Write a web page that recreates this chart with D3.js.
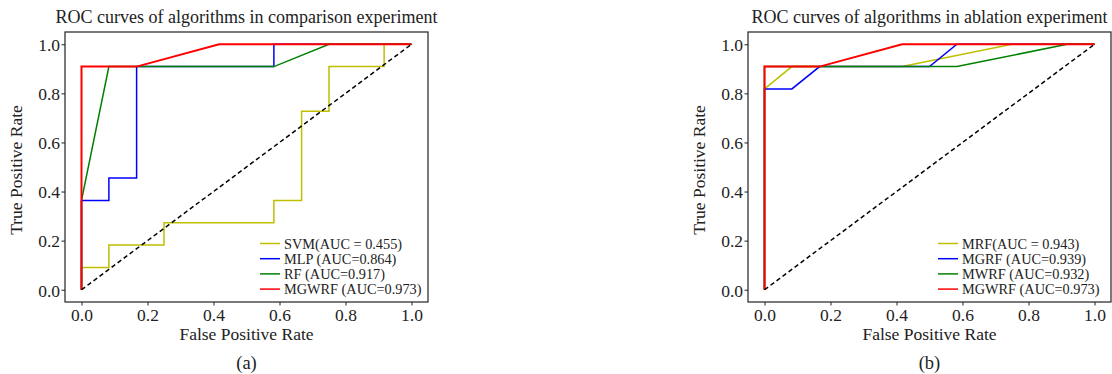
<!DOCTYPE html>
<html>
<head>
<meta charset="utf-8">
<script src="https://d3js.org/d3.v7.min.js"></script>
<style>
  body { margin: 0; background: #fff; }
</style>
</head>
<body>
<div id="chart"></div>
<script>
var ticks = [0, 0.2, 0.4, 0.6, 0.8, 1.0];

// panel (a): comparison experiment
var svmFpr = [0, 0, 0.083, 0.083, 0.25, 0.25, 0.583, 0.583, 0.667, 0.667, 0.75, 0.75, 0.917, 0.917, 1];
var svmTpr = [0, 0.091, 0.091, 0.182, 0.182, 0.273, 0.273, 0.364, 0.364, 0.727, 0.727, 0.909, 0.909, 1, 1];
var mlpFpr = [0, 0, 0.083, 0.083, 0.167, 0.167, 0.583, 0.583, 1];
var mlpTpr = [0, 0.364, 0.364, 0.455, 0.455, 0.909, 0.909, 1, 1];
var rfFpr = [0, 0, 0.083, 0.583, 0.75, 1];
var rfTpr = [0, 0.364, 0.909, 0.909, 1, 1];
var mgwrfFpr = [0, 0, 0.167, 0.417, 1];
var mgwrfTpr = [0, 0.909, 0.909, 1, 1];

// panel (b): ablation experiment
var mrfFpr = [0, 0, 0.083, 0.417, 0.75, 1];
var mrfTpr = [0, 0.818, 0.909, 0.909, 1, 1];
var mgrfFpr = [0, 0, 0.083, 0.167, 0.5, 0.583, 1];
var mgrfTpr = [0, 0.818, 0.818, 0.909, 0.909, 1, 1];
var mwrfFpr = [0, 0, 0.583, 0.917, 1];
var mwrfTpr = [0, 0.909, 0.909, 1, 1];

var labelsA = ["SVM(AUC = 0.455)", "MLP (AUC=0.864)", "RF (AUC=0.917)", "MGWRF (AUC=0.973)"];
var labelsB = ["MRF(AUC = 0.943)", "MGRF (AUC=0.939)", "MWRF (AUC=0.932)", "MGWRF (AUC=0.973)"];
var colors = ["#bfbf00", "#0000ff", "#008000", "#ff0000"];

var width = 1112, height = 374;
var serif = "'Liberation Serif', 'Times New Roman', Times, serif";

var svg = d3.select("#chart").append("svg")
    .attr("width", width)
    .attr("height", height);

function zip(xs, ys) {
    return xs.map(function(x, i) { return [x, ys[i]]; });
}

function drawPanel(opt) {
    var x = d3.scaleLinear().domain([-0.05, 1.05]).range([opt.left, opt.right]);
    var y = d3.scaleLinear().domain([-0.05, 1.05]).range([302, 32]);
    var g = svg.append("g");

    var line = d3.line()
        .x(function(d) { return x(d[0]); })
        .y(function(d) { return y(d[1]); });

    g.selectAll("path.curve")
        .data(opt.curves)
        .enter().append("path")
        .attr("class", "curve")
        .attr("d", function(d) { return line(d); })
        .attr("fill", "none")
        .attr("stroke", function(d, i) { return colors[i]; })
        .attr("stroke-width", function(d, i) { return i === 3 ? 2 : 1.5; });

    // chance line
    g.append("path")
        .attr("d", line([[0, 0], [1, 1]]))
        .attr("fill", "none")
        .attr("stroke", "#000")
        .attr("stroke-width", 1.5)
        .attr("stroke-dasharray", "4.5,3");

    var xAxis = g.append("g")
        .attr("transform", "translate(0,302)")
        .call(d3.axisBottom(x).tickValues(ticks).tickFormat(d3.format(".1f")).tickSizeOuter(0).tickSize(3.5));
    var yAxis = g.append("g")
        .attr("transform", "translate(" + opt.left + ",0)")
        .call(d3.axisLeft(y).tickValues(ticks).tickFormat(d3.format(".1f")).tickSizeOuter(0).tickSize(3.5));
    [xAxis, yAxis].forEach(function(a) {
        a.attr("font-family", serif).attr("font-size", 17.5);
        a.select(".domain").remove();
        a.selectAll("line").attr("stroke", "#222");
        a.selectAll("text").attr("fill", "#222");
    });
    xAxis.selectAll("text").attr("dy", "0.8em").attr("y", 4.5);
    yAxis.selectAll("text").attr("dy", "0.36em").attr("x", -5);

    g.append("rect")
        .attr("x", opt.left).attr("y", 32)
        .attr("width", opt.right - opt.left).attr("height", 270)
        .attr("fill", "none")
        .attr("stroke", "#222")
        .attr("stroke-width", 1.2);

    var cx = (opt.left + opt.right) / 2;
    var t = g.append("g").attr("font-family", serif).attr("fill", "#222");
    t.append("text")
        .attr("x", cx).attr("y", 23)
        .attr("text-anchor", "middle")
        .attr("font-size", 18)
        .text(opt.title);
    t.append("text")
        .attr("x", cx).attr("y", 340)
        .attr("text-anchor", "middle")
        .attr("font-size", 17.5)
        .text("False Positive Rate");
    t.append("text")
        .attr("transform", "translate(" + (opt.left - 43) + "," + 170 + ") rotate(-90)")
        .attr("text-anchor", "middle")
        .attr("font-size", 17.5)
        .text("True Positive Rate");
    t.append("text")
        .attr("x", cx).attr("y", 369)
        .attr("text-anchor", "middle")
        .attr("font-size", 18.5)
        .text(opt.caption);

    var leg = t.append("g").selectAll("g")
        .data(opt.labels)
        .enter().append("g")
        .attr("transform", function(d, i) { return "translate(" + opt.legendX + "," + (243.5 + i * 15.2) + ")"; });
    leg.append("line")
        .attr("x1", 0).attr("x2", 20)
        .attr("stroke", function(d, i) { return colors[i]; })
        .attr("stroke-width", 1.5);
    leg.append("text")
        .attr("x", 24).attr("dy", "0.35em")
        .attr("font-size", 14.3)
        .text(function(d) { return d; });
}

drawPanel({
    left: 65, right: 428,
    title: "ROC curves of algorithms in comparison experiment",
    caption: "(a)",
    labels: labelsA,
    legendX: 260,
    curves: [zip(svmFpr, svmTpr), zip(mlpFpr, mlpTpr), zip(rfFpr, rfTpr), zip(mgwrfFpr, mgwrfTpr)]
});

drawPanel({
    left: 748, right: 1111,
    title: "ROC curves of algorithms in ablation experiment",
    caption: "(b)",
    labels: labelsB,
    legendX: 938,
    curves: [zip(mrfFpr, mrfTpr), zip(mgrfFpr, mgrfTpr), zip(mwrfFpr, mwrfTpr), zip(mgwrfFpr, mgwrfTpr)]
});
</script>
</body>
</html>
